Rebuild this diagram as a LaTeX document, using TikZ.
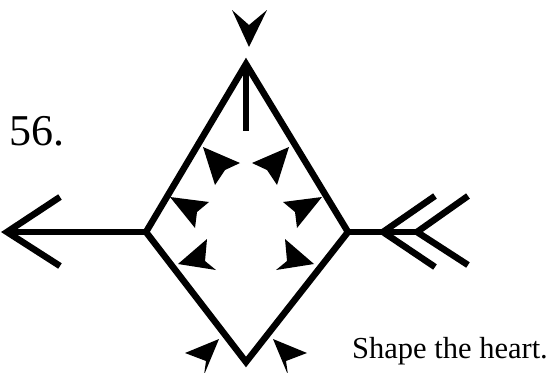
\documentclass[tikz,border=0pt]{standalone}
\usepackage{fontspec}
\setmainfont{Liberation Serif}
\begin{document}
\begin{tikzpicture}[x=1pt,y=-1pt,
  edge/.style={line width=6.5pt,line join=miter,miter limit=10},
  dart/.style={fill=black},
  lbl/.style={inner sep=0pt,anchor=base west}]
\useasboundingbox (0,0) rectangle (551,372);
% diamond vertices
\coordinate (T) at (246,64);
\coordinate (L) at (146,232);
\coordinate (R) at (348,232);
\coordinate (B) at (246,362);
\draw[edge] (T) -- (R) -- (B) -- (L) -- cycle;
% top stick
\coordinate (S) at (246,131);
\draw[edge] (T) -- (S);
% left arrow
\coordinate (LT) at (7,232);
\coordinate (LA) at (60,197);
\coordinate (LB) at (60,266);
\draw[edge] (L) -- (LT);
\draw[edge] (LA) -- (LT) -- (LB);
% right feathered end
\coordinate (RE) at (418,232);
\coordinate (F1) at (383,232);
\coordinate (F2) at (417,232);
\draw[edge,line cap=butt] (R) -- (RE);
\draw[edge] (435,196) -- (F1) -- (435,267);
\draw[edge] (468,196) -- (F2) -- (468,265);
% top dart (pointing down)
\fill[dart] (249,47) -- (232,10) -- (249,25) -- (267,10) -- cycle;
% inner darts
\fill[dart] (203,147) -- (240,163) -- (225,170) -- (215,185) -- cycle;
\fill[dart] (289,147) -- (252,163) -- (267,170) -- (277,185) -- cycle;
\fill[dart] (170,197) -- (209,202) -- (197,212) -- (195,228) -- cycle;
\fill[dart] (322,197) -- (283,202) -- (295,212) -- (297,228) -- cycle;
\fill[dart] (178,264) -- (207,239) -- (205,261) -- (216,270) -- cycle;
\fill[dart] (314,264) -- (285,239) -- (287,261) -- (276,270) -- cycle;
% bottom darts
\fill[dart] (219,339) -- (185,353) -- (206,361) -- (204,375) -- cycle;
\fill[dart] (273,339) -- (307,353) -- (286,361) -- (288,375) -- cycle;
% texts
\node[lbl,font=\fontsize{44}{48}\selectfont] (num) at (9,145) {56.};
\node[lbl,font=\fontsize{30.5}{34}\selectfont] (cap) at (352,358) {Shape the heart.};
\end{tikzpicture}
\end{document}
